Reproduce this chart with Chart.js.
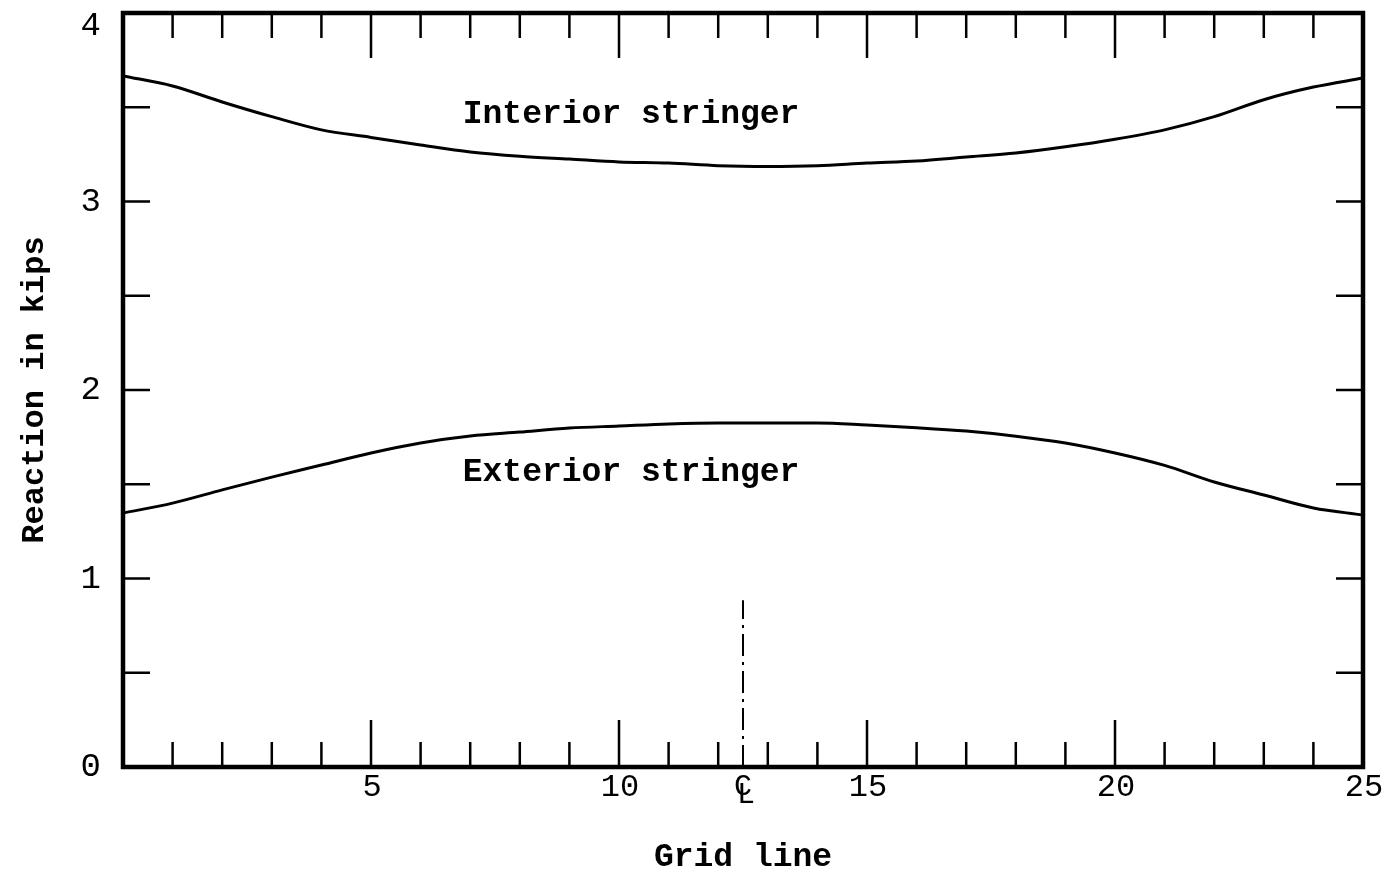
<!DOCTYPE html>
<html>
<head>
<meta charset="utf-8">
<title>Reaction in kips</title>
<script src="https://cdn.jsdelivr.net/npm/chart.js@4"></script>
<style>
    body { margin: 0; background: #fff; }
    #wrap { width: 1384px; height: 877px; }
</style>
</head>
<body>
<div id="wrap"><canvas id="reactionChart"></canvas></div>
<script>
// Chart data
const gridLines = [0, 1, 2, 3, 4, 5, 6, 7, 8, 9, 10, 11, 12, 13, 14, 15, 16, 17, 18, 19, 20, 21, 22, 23, 24, 25];
const interiorStringer = [3.666, 3.613, 3.528, 3.45, 3.38, 3.34, 3.30, 3.263, 3.24, 3.225, 3.21, 3.204, 3.19,
    3.186, 3.19, 3.204, 3.215, 3.236, 3.257, 3.29, 3.33, 3.38, 3.45, 3.54, 3.607, 3.655];
const exteriorStringer = [1.347, 1.40, 1.47, 1.538, 1.602, 1.666, 1.719, 1.756, 1.777, 1.798, 1.809, 1.82, 1.825,
    1.825, 1.825, 1.814, 1.80, 1.782, 1.755, 1.719, 1.666, 1.60, 1.512, 1.443, 1.374, 1.337];
const xTickValues = [5, 10, 12.5, 15, 20, 25];
const yTickValues = [0, 1, 2, 3, 4];
const yMax = 4;
const centerLine = 12.5;
const curveLabels = [
    { text: 'Interior stringer', x: 6.85, y: 3.46 },
    { text: 'Exterior stringer', x: 6.85, y: 1.56 }
];

const monoFont = "'Liberation Mono', 'DejaVu Sans Mono', monospace";

function toPoints(values) {
    return gridLines.map((g, i) => ({ x: g, y: values[i] }));
}

// Frame, inward ticks, centre line and curve labels
const framePlugin = {
    id: 'frame',
    afterDatasetsDraw(chart) {
        const { ctx, chartArea: area, scales: { x, y } } = chart;
        ctx.save();
        ctx.strokeStyle = '#000';
        ctx.lineCap = 'butt';

        // ticks on top and bottom
        ctx.lineWidth = 2.5;
        for (let g = 1; g < 25; g++) {
            const px = x.getPixelForValue(g);
            const major = g % 5 === 0;
            ctx.beginPath();
            ctx.moveTo(px, area.bottom);
            ctx.lineTo(px, area.bottom - (major ? 47 : 25));
            ctx.moveTo(px, area.top);
            ctx.lineTo(px, area.top + (major ? 45 : 25));
            ctx.stroke();
        }

        // ticks on left and right
        for (let v = 0.5; v < 4; v += 0.5) {
            const py = y.getPixelForValue(v);
            ctx.beginPath();
            ctx.moveTo(area.left, py);
            ctx.lineTo(area.left + 27, py);
            ctx.moveTo(area.right, py);
            ctx.lineTo(area.right - 27, py);
            ctx.stroke();
        }

        // centre line (dash-dot)
        const cx = x.getPixelForValue(centerLine);
        ctx.lineWidth = 2;
        ctx.setLineDash([22, 6, 3, 6]);
        ctx.beginPath();
        ctx.moveTo(cx, area.bottom);
        ctx.lineTo(cx, y.getPixelForValue(0.885));
        ctx.stroke();
        ctx.setLineDash([]);

        // frame
        ctx.lineWidth = 4.5;
        ctx.strokeRect(area.left, area.top, area.right - area.left, area.bottom - area.top);

        ctx.fillStyle = '#000';
        ctx.textAlign = 'center';
        ctx.textBaseline = 'top';

        // centre line symbol: C over L
        ctx.font = '30px ' + monoFont;
        ctx.fillText('C', cx, area.bottom + 5);
        ctx.fillText('L', cx + 3, area.bottom + 13);

        // top y label sits just under the frame line
        ctx.font = '34px ' + monoFont;
        ctx.textAlign = 'right';
        ctx.fillText(String(yMax), area.left - 22, y.getPixelForValue(yMax) - 4);

        // curve labels
        ctx.font = 'bold 33px ' + monoFont;
        ctx.textBaseline = 'middle';
        ctx.textAlign = 'left';
        curveLabels.forEach(l => {
            ctx.fillText(l.text, x.getPixelForValue(l.x), y.getPixelForValue(l.y));
        });
        ctx.restore();
    }
};

// Create chart
function createReactionChart() {
    const ctx = document.getElementById('reactionChart').getContext('2d');
    new Chart(ctx, {
        type: 'line',
        data: {
            datasets: [
                {
                    label: 'Interior stringer',
                    data: toPoints(interiorStringer),
                    borderColor: '#000',
                    borderWidth: 3,
                    pointRadius: 0,
                    cubicInterpolationMode: 'monotone',
                    fill: false
                },
                {
                    label: 'Exterior stringer',
                    data: toPoints(exteriorStringer),
                    borderColor: '#000',
                    borderWidth: 3,
                    pointRadius: 0,
                    cubicInterpolationMode: 'monotone',
                    fill: false
                }
            ]
        },
        options: {
            responsive: true,
            maintainAspectRatio: false,
            animation: false,
            layout: { padding: { left: 0, right: 21, top: 13, bottom: 0 } },
            plugins: {
                legend: { display: false },
                tooltip: { enabled: false }
            },
            scales: {
                x: {
                    type: 'linear',
                    min: 0,
                    max: 25,
                    grid: { display: false, drawTicks: false },
                    border: { display: false },
                    afterBuildTicks: scale => {
                        scale.ticks = xTickValues.map(v => ({ value: v }));
                    },
                    afterFit: scale => {
                        scale.height = 110;
                        scale.paddingLeft = 0;
                        scale.paddingRight = 0;
                    },
                    ticks: {
                        autoSkip: false,
                        maxRotation: 0,
                        padding: 1,
                        labelOffset: 1,
                        color: '#000',
                        font: { family: monoFont, size: 32 },
                        callback: v => (v === centerLine ? '' : v)
                    },
                    title: {
                        display: true,
                        text: 'Grid line',
                        color: '#000',
                        font: { family: monoFont, size: 33, weight: 'bold' },
                        padding: { top: 0, bottom: 0 }
                    }
                },
                y: {
                    min: 0,
                    max: yMax,
                    grid: { display: false, drawTicks: false },
                    border: { display: false },
                    afterBuildTicks: scale => {
                        scale.ticks = yTickValues.map(v => ({ value: v }));
                    },
                    afterFit: scale => {
                        scale.width = 123;
                        scale.paddingTop = 0;
                        scale.paddingBottom = 0;
                    },
                    ticks: {
                        padding: 22,
                        color: '#000',
                        font: { family: monoFont, size: 34 },
                        // the top label is drawn by the frame plugin
                        callback: v => (v === yMax ? '' : v)
                    },
                    title: {
                        display: true,
                        text: 'Reaction in kips',
                        color: '#000',
                        font: { family: monoFont, size: 32, weight: 'bold' },
                        padding: { top: 16, bottom: 0 }
                    }
                }
            }
        },
        plugins: [framePlugin]
    });
}

document.addEventListener('DOMContentLoaded', createReactionChart);
</script>
</body>
</html>
